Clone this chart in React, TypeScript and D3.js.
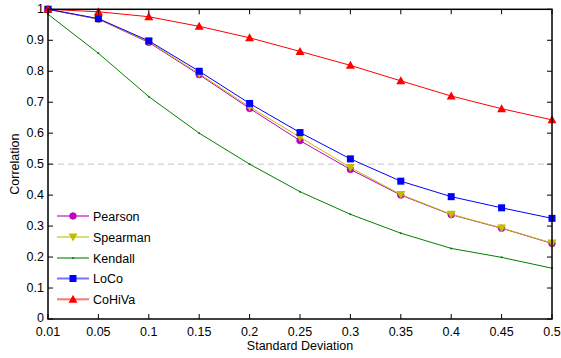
import React from "react";
import * as d3 from "d3";

const xLabels = ["0.01", "0.05", "0.1", "0.15", "0.2", "0.25", "0.3", "0.35", "0.4", "0.45", "0.5"];
const yTicks = [0, 0.1, 0.2, 0.3, 0.4, 0.5, 0.6, 0.7, 0.8, 0.9, 1];

const pearson = [1.0, 0.968, 0.893, 0.789, 0.68, 0.576, 0.483, 0.4, 0.337, 0.293, 0.244];
const spearman = [1.0, 0.969, 0.895, 0.792, 0.685, 0.587, 0.489, 0.402, 0.338, 0.294, 0.245];
const kendall = [0.984, 0.858, 0.718, 0.6, 0.5, 0.411, 0.338, 0.277, 0.228, 0.199, 0.164];
const loco = [1.0, 0.97, 0.898, 0.8, 0.696, 0.602, 0.517, 0.445, 0.395, 0.359, 0.325];
const cohiva = [1.0, 0.992, 0.976, 0.945, 0.908, 0.864, 0.819, 0.769, 0.72, 0.679, 0.643];

const seriesNames = ["Pearson", "Spearman", "Kendall", "LoCo", "CoHiVa"];
const seriesColors = ["#BF00BF", "#BFBF00", "#008000", "#0000FF", "#FF0000"];
const seriesMarkers = ["circle", "triangleDown", "dot", "square", "triangleUp"];
const seriesData = [pearson, spearman, kendall, loco, cohiva];

const W = 561, H = 358;
const M = { left: 48, right: 552, top: 9.3, bottom: 319 };
const FONT = "'Liberation Sans', Arial, Helvetica, sans-serif";

function Marker({ type, x, y, color }: { type: string; x: number; y: number; color: string }) {
  if (type === "circle") return <circle cx={x} cy={y} r={3.3} fill={color} stroke={color} strokeWidth={0.8} />;
  if (type === "square") return <rect x={x - 3.5} y={y - 3.5} width={7} height={7} fill={color} />;
  if (type === "triangleUp") {
    const p = `${x},${y - 4.5} ${x - 4.5},${y + 3.5} ${x + 4.5},${y + 3.5}`;
    return <polygon points={p} fill={color} />;
  }
  if (type === "triangleDown") {
    const p = `${x},${y + 4.5} ${x - 4.5},${y - 3.5} ${x + 4.5},${y - 3.5}`;
    return <polygon points={p} fill={color} />;
  }
  return <circle cx={x} cy={y} r={1} fill={color} />;
}

export default function App() {
  const x = d3.scalePoint<string>().domain(xLabels).range([M.left, M.right]);
  const y = d3.scaleLinear().domain([0, 1]).range([M.bottom, M.top]);
  const line = d3
    .line<number>()
    .x((_, i) => x(xLabels[i]) as number)
    .y((d) => y(d));
  const tl = 5;
  const legendY = [216, 237, 258, 278.5, 299.3];

  return (
    <svg width={W} height={H} style={{ position: "absolute", left: 0, top: 0, background: "#fff" }}>
      <rect x={0} y={0} width={W} height={H} fill="#fff" />
      {/* 0.5 reference line */}
      <line x1={M.left} x2={M.right} y1={y(0.5)} y2={y(0.5)} stroke="#c8c8c8" strokeDasharray="6,4" strokeWidth={1} />
      {/* series */}
      {seriesData.map((s, k) => (
        <g key={seriesNames[k]}>
          <path d={line(s) || ""} fill="none" stroke={seriesColors[k]} strokeWidth={1} />
          {s.map((v, i) => (
            <Marker key={i} type={seriesMarkers[k]} x={x(xLabels[i]) as number} y={y(v)} color={seriesColors[k]} />
          ))}
        </g>
      ))}
      {/* axes box */}
      <rect x={M.left} y={M.top} width={M.right - M.left} height={M.bottom - M.top} fill="none" stroke="#000" strokeWidth={1.5} />
      {xLabels.map((l) => {
        const xx = x(l) as number;
        return (
          <g key={l}>
            <line x1={xx} x2={xx} y1={M.bottom} y2={M.bottom - tl} stroke="#000" />
            <line x1={xx} x2={xx} y1={M.top} y2={M.top + tl} stroke="#000" />
            <text x={xx} y={M.bottom + 16.5} textAnchor="middle" fontFamily={FONT} fontSize={12.5} fill="#000">
              {l}
            </text>
          </g>
        );
      })}
      {yTicks.map((t) => {
        const yy = y(t);
        return (
          <g key={t}>
            <line x1={M.left} x2={M.left + tl} y1={yy} y2={yy} stroke="#000" />
            <line x1={M.right} x2={M.right - tl} y1={yy} y2={yy} stroke="#000" />
            <text x={M.left - 4} y={t === 0 ? yy + 3 : yy + 4} textAnchor="end" fontFamily={FONT} fontSize={12.5} fill="#000">
              {String(t)}
            </text>
          </g>
        );
      })}
      <text x={(M.left + M.right) / 2} y={349.5} textAnchor="middle" fontFamily={FONT} fontSize={12.5} fill="#000">
        Standard Deviation
      </text>
      <text
        transform={`translate(19,${(M.top + M.bottom) / 2}) rotate(-90)`}
        textAnchor="middle"
        fontFamily={FONT}
        fontSize={12.5}
        fill="#000"
      >
        Correlation
      </text>
      {/* legend */}
      {seriesNames.map((n, k) => (
        <g key={n}>
          <line x1={57} x2={89} y1={legendY[k]} y2={legendY[k]} stroke={seriesColors[k]} strokeOpacity={0.55} strokeWidth={2} />
          <Marker type={seriesMarkers[k]} x={73} y={legendY[k]} color={seriesColors[k]} />
          <text x={93} y={legendY[k] + 4.5} fontFamily={FONT} fontSize={12.5} fill="#000">
            {n}
          </text>
        </g>
      ))}
    </svg>
  );
}
